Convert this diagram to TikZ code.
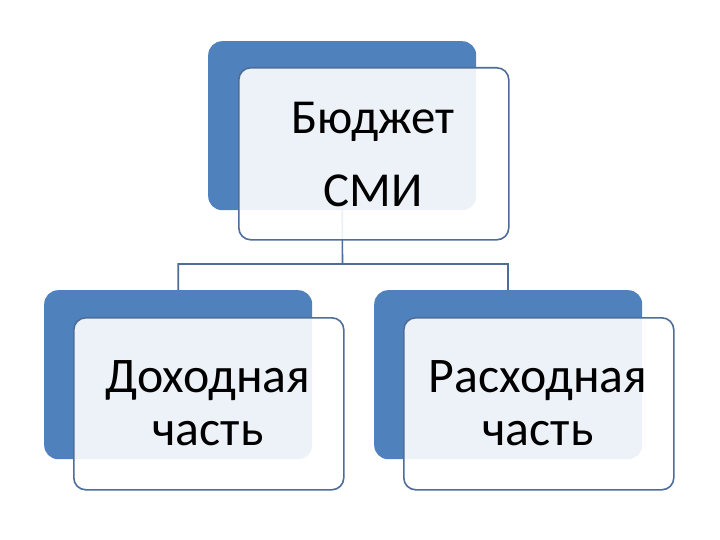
\documentclass[tikz,border=0pt]{standalone}
\usepackage{fontspec}
\setmainfont{Carlito}
\definecolor{boxblue}{HTML}{4F81BD}
\definecolor{edge}{HTML}{4E6E99}
\begin{document}
\begin{tikzpicture}[x=1bp,y=-1bp,
  backbox/.style={rectangle, anchor=north west, inner sep=0pt, fill=boxblue, rounded corners=14bp,
    minimum width=268bp, minimum height=169bp},
  frontbox/.style={rectangle, anchor=north west, inner sep=0pt, fill=white, fill opacity=0.9,
    draw=edge, line width=1.6bp, rounded corners=12bp, minimum width=270bp, minimum height=172bp},
  label/.style={anchor=base, align=center, text=black, inner sep=0pt},
  conn/.style={draw=edge, line width=1.6bp}]
\useasboundingbox (0,0) rectangle (720,540);
\fill[white] (0,0) rectangle (720,540);
% back boxes (positions only, connectors first)
\path (208,41) node[backbox, fill=none] (tb) {};
\path (44,290) node[backbox, fill=none] (lb) {};
\path (374,290) node[backbox, fill=none] (rb) {};
\coordinate (mid) at (342.5,264);
\draw[conn] (tb.south) -- (mid) -| (lb.north);
\draw[conn] (mid) -| (rb.north);
% boxes
\path (208,41) node[backbox] (tbb) {};
\path (238,67) node[frontbox] (tf) {};
\path (44,290) node[backbox] (lbb) {};
\path (73,317) node[frontbox] (lf) {};
\path (374,290) node[backbox] (rbb) {};
\path (403,317) node[frontbox] (rf) {};
% texts (base anchor = last line baseline)
\node[label, font=\fontsize{49}{74}\selectfont] (tt) at (373,207) {Бюджет\\СМИ};
\node[label, font=\fontsize{50}{53}\selectfont] (lt) at (208,445) {Доходная\\часть};
\node[label, font=\fontsize{50}{53}\selectfont] (rt) at (538,445) {Расходная\\часть};
\end{tikzpicture}
\end{document}
